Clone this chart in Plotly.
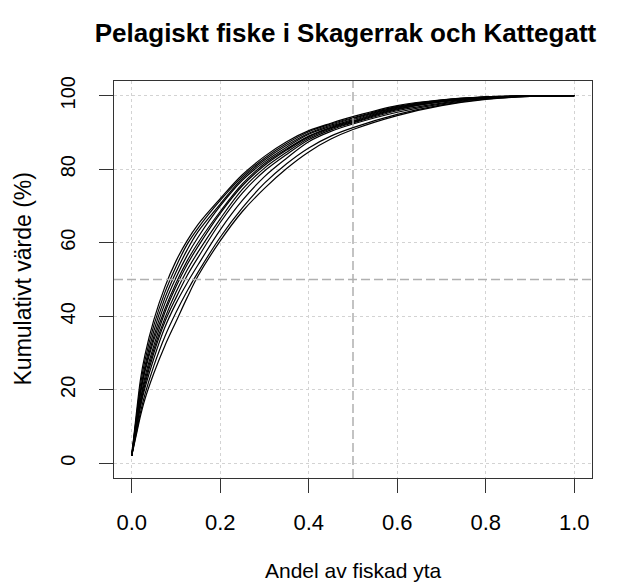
import plotly.graph_objects as go

FONT = "Arial, Liberation Sans, sans-serif"

# andel av fiskad yta (x) och kumulativt värde (%) per kurva
andel = [0, 0.01, 0.02, 0.03, 0.05, 0.075, 0.1, 0.125, 0.15, 0.2, 0.25,
         0.3, 0.35, 0.4, 0.45, 0.5, 0.6, 0.7, 0.8, 0.9, 1.0]

kurva_1 = [2, 13, 23, 29.5, 39, 48, 55, 60.5, 65, 72, 78.5, 83.5, 87.5, 90.5, 92.5, 94.3, 97.3, 98.9, 99.7, 100, 100]
kurva_2 = [2, 12, 21.5, 28, 37.5, 46.5, 53.5, 59.5, 64, 71.5, 78, 83, 87, 90.2, 92.3, 94, 97.1, 98.8, 99.7, 100, 100]
kurva_3 = [2, 11.5, 20, 26.5, 36, 45, 52, 58, 63, 70.5, 77.5, 82.5, 86.5, 89.8, 92, 93.8, 96.9, 98.7, 99.6, 99.9, 100]
kurva_4 = [2, 10.5, 19, 25.5, 34.5, 43.5, 50.5, 56.5, 61.5, 70, 77, 82, 86, 89.5, 91.7, 93.5, 96.8, 98.6, 99.6, 99.9, 100]
kurva_5 = [2, 11, 19.5, 25, 33.5, 42, 49, 55, 60, 68.5, 76, 81.5, 85.5, 89, 91.4, 93.2, 96.6, 98.5, 99.5, 99.9, 100]
kurva_6 = [2, 10, 17.5, 23.5, 32, 41, 48, 54, 59, 68, 75.5, 81, 85.2, 88.8, 91.2, 93, 96.4, 98.4, 99.5, 99.9, 100]
kurva_7 = [2, 9.5, 17, 22.5, 31, 39.5, 46.5, 52.5, 57.5, 66.5, 74.5, 80.3, 84.6, 88.4, 91, 92.8, 96.2, 98.3, 99.4, 99.9, 100]
kurva_8 = [2, 9, 16, 21.5, 30, 38.5, 45, 51, 56, 65.5, 73.5, 79.5, 84, 88, 90.7, 92.6, 95.9, 98, 99.4, 99.9, 100]
kurva_9 = [2, 9, 15.5, 20.5, 28.5, 37, 43.5, 49, 54, 63.5, 71.5, 78, 83, 87.5, 90.3, 92.3, 95.5, 97.8, 99.3, 99.9, 100]
kurva_10 = [2, 8, 14, 18.8, 26.5, 34.5, 41, 46.8, 52, 61.5, 69.5, 76.2, 81.5, 85.8, 89, 91.3, 94.9, 97.5, 99.1, 99.8, 100]
kurva_11 = [2, 7.5, 13, 17.5, 24.5, 32, 38.5, 45, 51, 60.5, 68.5, 74.8, 80.2, 84.7, 88.2, 90.8, 94.6, 97.3, 99.0, 99.8, 100]

kurvor = [kurva_1, kurva_2, kurva_3, kurva_4, kurva_5, kurva_6,
          kurva_7, kurva_8, kurva_9, kurva_10, kurva_11]

x_ticks = [0, 0.2, 0.4, 0.6, 0.8, 1.0]
x_ticklabels = ["0.0", "0.2", "0.4", "0.6", "0.8", "1.0"]
y_ticks = [0, 20, 40, 60, 80, 100]

fig = go.Figure()
for k in kurvor:
    fig.add_trace(go.Scatter(
        x=andel, y=k, mode="lines",
        line=dict(color="black", width=1.2, shape="spline", smoothing=1),
        showlegend=False, hoverinfo="skip",
    ))

ref_line = dict(color="#b0b0b0", width=1.5, dash="9px,4px")
fig.add_shape(type="line", xref="x", yref="paper", x0=0.5, x1=0.5, y0=0, y1=1,
              line=ref_line, layer="above")
fig.add_shape(type="line", xref="paper", yref="y", x0=0, x1=1, y0=50, y1=50,
              line=ref_line, layer="above")

axis_common = dict(
    showline=True, linecolor="#333", linewidth=1, mirror=True,
    ticks="outside", ticklen=14, tickwidth=1, tickcolor="#333",
    showgrid=True, gridcolor="#d3d3d3", gridwidth=1, griddash="dot",
    zeroline=False,
)

fig.update_xaxes(range=[-0.04, 1.04], tickvals=x_ticks, ticktext=x_ticklabels,
                 ticklabelstandoff=11, tickfont=dict(family=FONT, size=22, color="black"),
                 **axis_common)
fig.update_yaxes(range=[-4, 104], tickvals=y_ticks, tickangle=-90,
                 ticklabelstandoff=16, tickfont=dict(family=FONT, size=20, color="black"),
                 **axis_common)

fig.update_layout(
    width=610, height=576,
    margin=dict(l=106, r=26, t=73, b=106),
    plot_bgcolor="white", paper_bgcolor="white",
    font=dict(family=FONT, color="black"),
    title=dict(text="<b>Pelagiskt fiske i Skagerrak och Kattegatt</b>",
               x=337.5 / 610, xanchor="center", y=1 - 25 / 576, yanchor="middle",
               font=dict(size=26, family=FONT)),
    annotations=[
        dict(text="Andel av fiskad yta", xref="paper", yref="paper",
             x=0.5, y=-92 / 397, xanchor="center", yanchor="middle",
             showarrow=False, font=dict(size=21)),
        dict(text="Kumulativt värde (%)", xref="paper", yref="paper",
             x=-92 / 478, y=0.5, xanchor="center", yanchor="middle",
             textangle=-90, showarrow=False, font=dict(size=23)),
    ],
)

fig.write_html("out.html")
